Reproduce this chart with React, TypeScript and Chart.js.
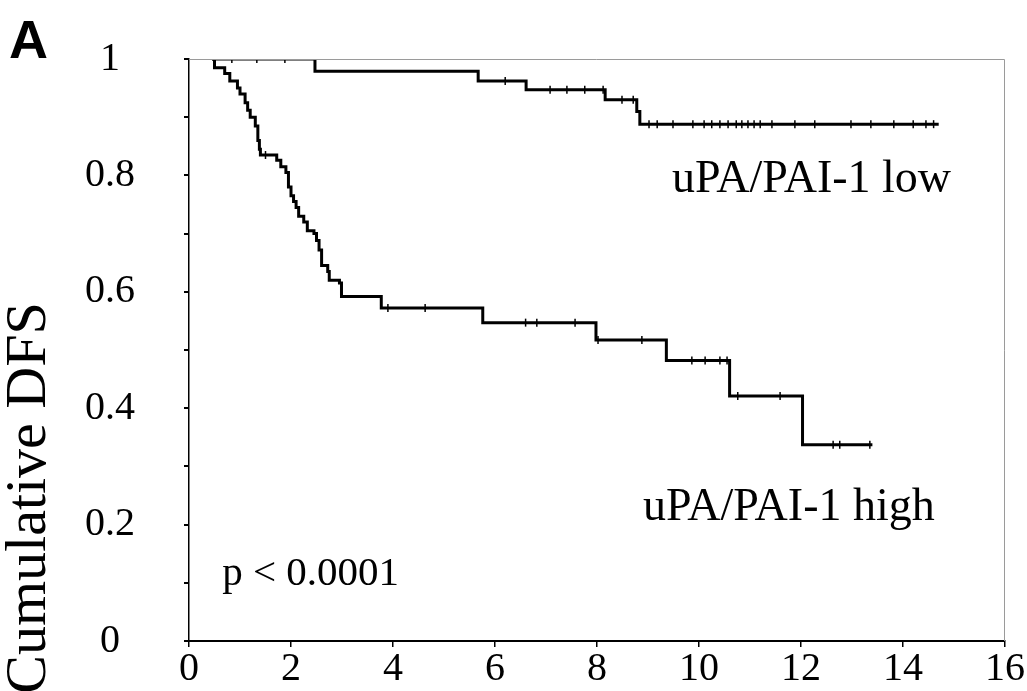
import React, { useEffect, useRef } from "react";
import { Chart, registerables } from "chart.js";

Chart.register(...registerables);

// Kaplan-Meier step data: time (years) at which each level starts, and the survival level
const lowTimes = [0.45, 2.47, 5.67, 6.61, 8.16, 8.78, 8.84, 14.7];
const lowSurv = [1.0, 0.979, 0.962, 0.947, 0.93, 0.91, 0.888, 0.888];

const highTimes = [
  0.45, 0.5, 0.7, 0.8, 0.95, 1.0, 1.1, 1.15, 1.2, 1.3, 1.35, 1.38, 1.4, 1.72, 1.8, 1.9, 1.95, 2.0,
  2.05, 2.1, 2.15, 2.25, 2.32, 2.45, 2.5, 2.55, 2.6, 2.72, 2.75, 2.95, 2.99, 3.77, 5.76, 7.98, 9.36,
  10.6, 12.03, 13.4,
];
const highSurv = [
  1.0, 0.985, 0.975, 0.962, 0.95, 0.94, 0.925, 0.912, 0.9, 0.885, 0.86, 0.845, 0.835, 0.826, 0.815,
  0.805, 0.78, 0.765, 0.755, 0.745, 0.73, 0.72, 0.705, 0.7, 0.688, 0.672, 0.645, 0.635, 0.62, 0.615,
  0.592, 0.572, 0.547, 0.517, 0.482, 0.421, 0.337, 0.337,
];

// censored observations (tick marks)
const lowCensor = [
  0.84, 1.33, 1.88, 6.2, 7.08, 7.41, 7.76, 8.12, 8.49, 8.71, 9.02, 9.18, 9.49, 9.88, 10.1, 10.25,
  10.41, 10.57, 10.73, 10.84, 10.96, 11.08, 11.2, 11.43, 11.88, 12.27, 12.98, 13.37, 13.82, 14.2,
  14.45, 14.6,
];
const highCensor = [
  1.5, 3.9, 4.63, 6.6, 6.82, 7.57, 8.02, 8.88, 9.86, 10.12, 10.41, 10.55, 10.76, 11.59, 12.63, 12.76,
  13.35,
];

const xTicks = [0, 2, 4, 6, 8, 10, 12, 14, 16];
const yTicks = [0, 0.1, 0.2, 0.3, 0.4, 0.5, 0.6, 0.7, 0.8, 0.9, 1];
const yTickLabels = ["0", "", "0.2", "", "0.4", "", "0.6", "", "0.8", "", "1"];

const yTitle = "Cumulative DFS";
const panelLabel = "A";
const lowLabel = "uPA/PAI-1 low";
const highLabel = "uPA/PAI-1 high";
const pLabel = "p < 0.0001";

function levelAt(times: number[], surv: number[], t: number) {
  let v = surv[0];
  for (let i = 0; i < times.length; i++) if (times[i] <= t) v = surv[i];
  return v;
}

const SERIF = "'Liberation Serif', 'Times New Roman', serif";

export default function App() {
  const ref = useRef<HTMLCanvasElement | null>(null);

  useEffect(() => {
    if (!ref.current) return;

    const textPlugin = {
      id: "texts",
      afterDraw(chart: any) {
        const ctx = chart.ctx;
        const xs = chart.scales.x;
        const ys = chart.scales.y;
        const area = chart.chartArea;
        ctx.save();
        // thin grey frame on top and right
        ctx.strokeStyle = "#9a9a9a";
        ctx.lineWidth = 1;
        ctx.beginPath();
        ctx.moveTo(area.left, area.top + 0.5);
        ctx.lineTo(area.right - 0.5, area.top + 0.5);
        ctx.lineTo(area.right - 0.5, area.bottom);
        ctx.stroke();

        ctx.fillStyle = "#000";
        ctx.textBaseline = "alphabetic";
        ctx.textAlign = "left";
        ctx.font = `46px ${SERIF}`;
        ctx.fillText(lowLabel, xs.getPixelForValue(9.47), ys.getPixelForValue(0.771));
        ctx.fillText(highLabel, xs.getPixelForValue(8.9), ys.getPixelForValue(0.208));
        ctx.font = `41px ${SERIF}`;
        ctx.fillText(pLabel, xs.getPixelForValue(0.65), ys.getPixelForValue(0.096));

        ctx.font = "bold 54px 'Liberation Sans', Arial, sans-serif";
        ctx.fillText(panelLabel, 9, 58);

        ctx.translate(30, 498);
        ctx.rotate(-Math.PI / 2);
        ctx.textAlign = "center";
        ctx.textBaseline = "middle";
        ctx.font = `58px ${SERIF}`;
        ctx.fillText(yTitle, 0, 0);
        ctx.restore();
      },
    };

    const chart = new Chart(ref.current, {
      type: "line",
      data: {
        datasets: [
          {
            label: lowLabel,
            data: lowTimes.map((t, i) => ({ x: t, y: lowSurv[i] })),
            stepped: "before",
            borderColor: "#000",
            borderWidth: 3,
            pointRadius: 0,
            fill: false,
          },
          {
            label: highLabel,
            data: highTimes.map((t, i) => ({ x: t, y: highSurv[i] })),
            stepped: "before",
            borderColor: "#000",
            borderWidth: 3,
            pointRadius: 0,
            fill: false,
          },
          {
            label: "low censored",
            data: lowCensor.map((t) => ({ x: t, y: levelAt(lowTimes, lowSurv, t) })),
            showLine: false,
            pointStyle: "line",
            rotation: 90,
            pointRadius: 4,
            borderColor: "#000",
            borderWidth: 1.5,
          },
          {
            label: "high censored",
            data: highCensor.map((t) => ({ x: t, y: levelAt(highTimes, highSurv, t) })),
            showLine: false,
            pointStyle: "line",
            rotation: 90,
            pointRadius: 4,
            borderColor: "#000",
            borderWidth: 1.5,
          },
        ],
      },
      options: {
        animation: false,
        responsive: false,
        maintainAspectRatio: false,
        layout: { padding: { top: 59, right: 22, left: 0, bottom: 0 } },
        plugins: {
          legend: { display: false },
          tooltip: { enabled: false },
        },
        scales: {
          x: {
            type: "linear",
            min: 0,
            max: 16,
            afterBuildTicks: (s: any) => {
              s.ticks = xTicks.map((v) => ({ value: v }));
            },
            afterFit: (s: any) => {
              s.height = 50;
              s.paddingLeft = 0;
              s.paddingRight = 0;
            },
            ticks: {
              color: "#000",
              font: { family: SERIF, size: 40 },
              padding: -2,
              maxRotation: 0,
              autoSkip: false,
              callback: (v: any) => String(v),
            },
            grid: { drawOnChartArea: false, drawTicks: true, tickLength: 6, color: "#000", lineWidth: 1.5 },
            border: { display: true, color: "#000", width: 2 },
          },
          y: {
            type: "linear",
            min: 0,
            max: 1,
            afterBuildTicks: (s: any) => {
              s.ticks = yTicks.map((v) => ({ value: v }));
            },
            afterFit: (s: any) => {
              s.width = 189;
              s.paddingTop = 0;
              s.paddingBottom = 0;
            },
            ticks: {
              color: "#000",
              font: { family: SERIF, size: 40 },
              padding: 49,
              crossAlign: "center",
              autoSkip: false,
              callback: (v: any) => {
                const i = yTicks.findIndex((t) => Math.abs(t - Number(v)) < 1e-6);
                return i >= 0 ? yTickLabels[i] : "";
              },
            },
            grid: { drawOnChartArea: false, drawTicks: true, tickLength: 5, color: "#000", lineWidth: 2 },
            border: { display: true, color: "#000", width: 1.5 },
          },
        },
      },
      plugins: [textPlugin],
    } as any);

    return () => chart.destroy();
  }, []);

  return (
    <div style={{ position: "fixed", left: 0, top: 0, width: 1027, height: 691, background: "#fff" }}>
      <canvas ref={ref} width={1027} height={691} style={{ width: 1027, height: 691 }} />
    </div>
  );
}
